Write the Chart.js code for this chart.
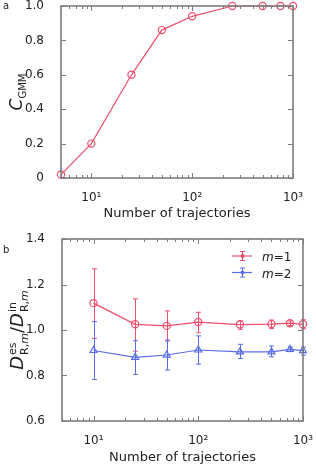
<!DOCTYPE html>
<html><head><meta charset="utf-8">
<script src="https://cdn.jsdelivr.net/npm/chart.js@4.4.0/dist/chart.umd.min.js"></script>
<style>
html,body{margin:0;padding:0;background:#fff;}
body{width:316px;height:468px;position:relative;overflow:hidden;font-family:'DejaVu Sans',sans-serif;color:#222;}
canvas{position:absolute;left:0;}
#ca{top:0;}
#cb{top:230px;}
.lab{position:absolute;font-size:10px;line-height:1;}
.yt{position:absolute;transform:translate(-50%,-50%) rotate(-90deg);white-space:nowrap;line-height:1;}
.ss{display:inline-flex;flex-direction:column;vertical-align:7px;font-size:11px;line-height:1.1;font-style:normal;margin-left:1px;}
</style></head><body>
<canvas id="ca" width="316" height="230"></canvas>
<canvas id="cb" width="316" height="238"></canvas>
<div class="lab" style="left:3px;top:1px;">a</div>
<div class="lab" style="left:3px;top:245px;">b</div>
<div class="yt" style="left:18px;top:92px;font-size:17px;"><i>C</i><sub style="font-size:10px;font-style:normal;">GMM</sub></div>
<div class="yt" style="left:19px;top:330px;font-size:18px;"><i>D</i><span class="ss"><span>es</span><span>R,<i>m</i></span></span>/<i>D</i><span class="ss"><span>in</span><span>R,<i>m</i></span></span></div>
<script>
// ---- data ----
const trajA = [5, 10, 25, 50, 100, 250, 500, 750, 1000];
const cGMM = [0.02, 0.2, 0.6, 0.86, 0.94, 1.0, 1.0, 1.0, 1.0];

const trajB = [10, 25, 50, 100, 250, 500, 750, 1000];
const m1Mean = [1.118, 1.025, 1.018, 1.035, 1.024, 1.026, 1.030, 1.025];
const m1Lo   = [0.963, 0.907, 0.951, 0.988, 1.003, 1.007, 1.020, 1.005];
const m1Hi   = [1.269, 1.137, 1.084, 1.078, 1.040, 1.044, 1.040, 1.045];
const m2Mean = [0.910, 0.880, 0.890, 0.912, 0.904, 0.904, 0.915, 0.909];
const m2Lo   = [0.782, 0.805, 0.824, 0.850, 0.875, 0.882, 0.905, 0.890];
const m2Hi   = [1.037, 0.953, 0.956, 0.974, 0.937, 0.930, 0.925, 0.925];

const xMajorTicks = [10, 100, 1000];
const xMajorLabels = ['10\u00B9', '10\u00B2', '10\u00B3'];
const yTicksA = [0, 0.2, 0.4, 0.6, 0.8, 1.0];
const yLabelsA = ['0', '0.2', '0.4', '0.6', '0.8', '1.0'];
const yTicksB = [0.6, 0.8, 1.0, 1.2, 1.4];
const yLabelsB = ['0.6', '0.8', '1.0', '1.2', '1.4'];
const xTitle = 'Number of trajectories';
const legendLabels = ['1', '2'];

const RED = 'rgb(240,78,108)';
const BLUE = 'rgb(88,108,232)';
const FRAME = '#7d7d7d';
const TXT = '#222';
const FONT = "'DejaVu Sans', sans-serif";

// all log ticks (1..9 per decade) between 5 and 1000
function logTicks(min, max) {
  const out = [];
  for (let e = 0; e <= 3; e++) for (let s = 1; s <= 9; s++) {
    const v = s * Math.pow(10, e);
    if (v >= min - 1e-9 && v <= max + 1e-9) out.push(v);
  }
  return out;
}
const isMajor = v => { const l = Math.log10(v); return Math.abs(l - Math.round(l)) < 1e-6; };

const frameTicks = {
  id: 'frameTicks',
  afterDraw(chart) {
    const { ctx, chartArea: a, scales: { x, y } } = chart;
    ctx.save();
    ctx.strokeStyle = FRAME;
    ctx.lineWidth = 1;
    ctx.beginPath();
    x.ticks.forEach(t => {
      const p = Math.round(x.getPixelForValue(t.value)) + 0.5;
      const L = isMajor(t.value) ? 5 : 3;
      ctx.moveTo(p, a.bottom); ctx.lineTo(p, a.bottom - L);
      ctx.moveTo(p, a.top); ctx.lineTo(p, a.top + L);
    });
    y.ticks.forEach(t => {
      const p = Math.round(y.getPixelForValue(t.value)) + 0.5;
      ctx.moveTo(a.left, p); ctx.lineTo(a.left + 5, p);
      ctx.moveTo(a.right, p); ctx.lineTo(a.right - 5, p);
    });
    ctx.stroke();
    ctx.lineWidth = 1.6;
    ctx.strokeRect(a.left, a.top, a.width, a.height);
    ctx.restore();
  }
};

const errorBars = {
  id: 'errorBars',
  beforeDatasetsDraw(chart) {
    const { ctx, scales: { y } } = chart;
    ctx.save();
    chart.data.datasets.forEach((ds, i) => {
      if (!ds.errLo) return;
      const meta = chart.getDatasetMeta(i);
      ctx.strokeStyle = ds.borderColor;
      ctx.lineWidth = 1;
      meta.data.forEach((pt, j) => {
        const px = Math.round(pt.x) + 0.5;
        const yl = y.getPixelForValue(ds.errLo[j]);
        const yh = y.getPixelForValue(ds.errHi[j]);
        ctx.beginPath();
        ctx.moveTo(px, yl); ctx.lineTo(px, yh);
        ctx.moveTo(px - 2.5, yl); ctx.lineTo(px + 2.5, yl);
        ctx.moveTo(px - 2.5, yh); ctx.lineTo(px + 2.5, yh);
        ctx.stroke();
      });
    });
    ctx.restore();
  }
};

const legendB = {
  id: 'legendB',
  afterDraw(chart) {
    const { ctx } = chart;
    const rows = [{ c: RED, y: 26, t: legendLabels[0] }, { c: BLUE, y: 42.5, t: legendLabels[1] }];
    ctx.save();
    rows.forEach(r => {
      ctx.strokeStyle = r.c; ctx.fillStyle = r.c; ctx.lineWidth = 1.2;
      ctx.beginPath();
      ctx.moveTo(232, r.y); ctx.lineTo(252, r.y);
      ctx.stroke();
      ctx.lineWidth = 1;
      ctx.beginPath();
      ctx.moveTo(242.5, r.y - 4.5); ctx.lineTo(242.5, r.y + 4.5);
      ctx.moveTo(240, r.y - 4.5); ctx.lineTo(245, r.y - 4.5);
      ctx.moveTo(240, r.y + 4.5); ctx.lineTo(245, r.y + 4.5);
      ctx.stroke();
      ctx.beginPath(); ctx.arc(242.5, r.y, 2, 0, Math.PI * 2); ctx.fill();
      ctx.fillStyle = TXT;
      ctx.textBaseline = 'alphabetic';
      ctx.font = "italic 12px " + FONT;
      ctx.fillText('m', 262, r.y + 5);
      const w = ctx.measureText('m').width;
      ctx.font = "12px " + FONT;
      ctx.fillText('=' + r.t, 262 + w, r.y + 5);
    });
    ctx.restore();
  }
};

function makeOptions(yTicks, yLabels, yMin, yMax, pad, yWidth, xHeight, titlePadBottom) {
  return {
    responsive: false,
    animation: false,
    events: [],
    layout: { padding: pad },
    plugins: { legend: { display: false }, tooltip: { enabled: false } },
    scales: {
      x: {
        type: 'logarithmic', min: 5, max: 1000,
        grid: { display: false }, border: { display: false },
        afterBuildTicks: s => { s.ticks = logTicks(5, 1000).map(v => ({ value: v, major: isMajor(v) })); },
        afterFit: s => { s.height = xHeight; s.paddingLeft = 0; s.paddingRight = 0; },
        ticks: {
          autoSkip: false, maxRotation: 0, padding: 5, color: TXT,
          font: { family: FONT, size: 12 },
          callback: v => { const k = xMajorTicks.indexOf(v); return k >= 0 ? xMajorLabels[k] : ''; }
        },
        title: { display: true, text: xTitle, color: TXT, font: { family: FONT, size: 13 }, padding: { top: 0, bottom: titlePadBottom } }
      },
      y: {
        type: 'linear', min: yMin, max: yMax,
        grid: { display: false }, border: { display: false },
        afterBuildTicks: s => { s.ticks = yTicks.map(v => ({ value: v })); },
        afterFit: s => { s.width = yWidth; s.paddingTop = 0; s.paddingBottom = 0; },
        ticks: {
          padding: 9, color: TXT, font: { family: FONT, size: 12 },
          callback: (v, i) => yLabels[i]
        }
      }
    }
  };
}

new Chart(document.getElementById('ca'), {
  type: 'line',
  data: {
    datasets: [{
      data: trajA.map((x, i) => ({ x, y: cGMM[i] })),
      borderColor: RED, backgroundColor: 'rgba(0,0,0,0)', borderWidth: 1.2,
      pointStyle: 'circle', pointRadius: 3.6, pointBorderWidth: 1.2, clip: false
    }]
  },
  options: makeOptions(yTicksA, yLabelsA, 0, 1, { top: 6, right: 23, left: 0, bottom: 0 }, 61, 52, 9),
  plugins: [frameTicks]
});

new Chart(document.getElementById('cb'), {
  type: 'line',
  data: {
    datasets: [{
      data: trajB.map((x, i) => ({ x, y: m1Mean[i] })), errLo: m1Lo, errHi: m1Hi,
      borderColor: RED, backgroundColor: 'rgba(0,0,0,0)', borderWidth: 1.2,
      pointStyle: 'circle', pointRadius: 3.6, pointBorderWidth: 1.2, clip: false
    }, {
      data: trajB.map((x, i) => ({ x, y: m2Mean[i] })), errLo: m2Lo, errHi: m2Hi,
      borderColor: BLUE, backgroundColor: 'rgba(0,0,0,0)', borderWidth: 1.2,
      pointStyle: 'triangle', pointRadius: 4, pointBorderWidth: 1.2, clip: false
    }]
  },
  options: makeOptions(yTicksB, yLabelsB, 0.6, 1.4, { top: 9, right: 13, left: 0, bottom: 0 }, 62, 47, 3),
  plugins: [frameTicks, errorBars, legendB]
});
</script>
</body></html>
